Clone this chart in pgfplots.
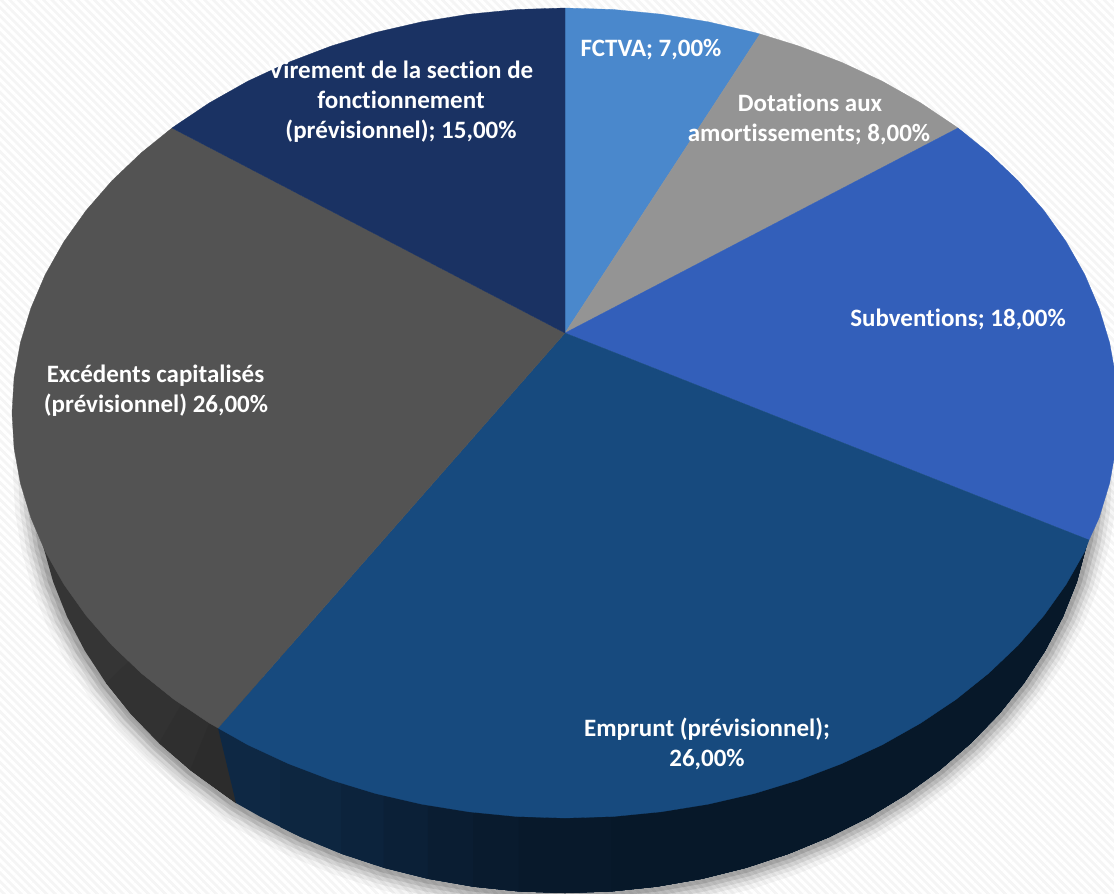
\documentclass[border=0pt]{standalone}
\usepackage{fontspec}
\setmainfont{Carlito}[Ligatures={NoCommon}]
\usepackage{pgfplots}
\pgfplotsset{compat=1.18}
\usetikzlibrary{patterns.meta}
\definecolor{cFCTVA}{HTML}{4A88CC}
\definecolor{cDot}{HTML}{949494}
\definecolor{cSub}{HTML}{335FBA}
\definecolor{cEmp}{HTML}{174A7E}
\definecolor{cExc}{HTML}{535353}
\definecolor{cVir}{HTML}{1A3263}
\definecolor{bgc}{HTML}{F5F5F5}
\begin{document}
\begin{tikzpicture}
\begin{axis}[
  width=1114pt,height=894pt,scale only axis,
  xmin=0,xmax=1114,ymin=0,ymax=894,y dir=reverse,
  hide axis,no markers,
  every axis plot/.append style={line join=round},
]
% background
\addplot[fill=bgc,draw=none] coordinates {(0,0)(1114,0)(1114,894)(0,894)} --cycle;
\addplot[draw=none,pattern={Lines[angle=-45,distance=6pt,line width=3pt]},pattern color=white] coordinates {(0,0)(1114,0)(1114,894)(0,894)} --cycle;
% soft shadow: strokes along the lower outline
\addplot[draw=black,opacity=.04,line width=44pt] coordinates {(1086.9,400.1)(1093,436.4)(1095,473)(1093,509.6)(1088,540)(1076.9,581.7)(1063,616.6)(1045.3,650.5)(1024,683)(999.2,713.9)(971,743)(939.8,770)(905.7,794.7)(869,817.1)(830,836.7)(789,853.6)(746.3,867.7)(702.2,878.7)(657,886.6)(611.2,891.4)(565,893)(518.8,891.4)(473,886.6)(427.8,878.7)(383.7,867.7)(341,853.6)(300,836.7)(261,817.1)(236,803)(224.3,794.7)(190.2,770)(159,743)(130.8,713.9)(106,683)(84.7,650.5)(67,616.6)(53.1,581.7)(43.1,545.9)(37,509.6)(35,473)(37,436.4)(43.1,400.1)};
\addplot[draw=black,opacity=.06,line width=34pt] coordinates {(1086.9,400.1)(1093,436.4)(1095,473)(1093,509.6)(1088,540)(1076.9,581.7)(1063,616.6)(1045.3,650.5)(1024,683)(999.2,713.9)(971,743)(939.8,770)(905.7,794.7)(869,817.1)(830,836.7)(789,853.6)(746.3,867.7)(702.2,878.7)(657,886.6)(611.2,891.4)(565,893)(518.8,891.4)(473,886.6)(427.8,878.7)(383.7,867.7)(341,853.6)(300,836.7)(261,817.1)(236,803)(224.3,794.7)(190.2,770)(159,743)(130.8,713.9)(106,683)(84.7,650.5)(67,616.6)(53.1,581.7)(43.1,545.9)(37,509.6)(35,473)(37,436.4)(43.1,400.1)};
\addplot[draw=black,opacity=.08,line width=26pt] coordinates {(1086.9,400.1)(1093,436.4)(1095,473)(1093,509.6)(1088,540)(1076.9,581.7)(1063,616.6)(1045.3,650.5)(1024,683)(999.2,713.9)(971,743)(939.8,770)(905.7,794.7)(869,817.1)(830,836.7)(789,853.6)(746.3,867.7)(702.2,878.7)(657,886.6)(611.2,891.4)(565,893)(518.8,891.4)(473,886.6)(427.8,878.7)(383.7,867.7)(341,853.6)(300,836.7)(261,817.1)(236,803)(224.3,794.7)(190.2,770)(159,743)(130.8,713.9)(106,683)(84.7,650.5)(67,616.6)(53.1,581.7)(43.1,545.9)(37,509.6)(35,473)(37,436.4)(43.1,400.1)};
\addplot[draw=black,opacity=.10,line width=18pt] coordinates {(1086.9,400.1)(1093,436.4)(1095,473)(1093,509.6)(1088,540)(1076.9,581.7)(1063,616.6)(1045.3,650.5)(1024,683)(999.2,713.9)(971,743)(939.8,770)(905.7,794.7)(869,817.1)(830,836.7)(789,853.6)(746.3,867.7)(702.2,878.7)(657,886.6)(611.2,891.4)(565,893)(518.8,891.4)(473,886.6)(427.8,878.7)(383.7,867.7)(341,853.6)(300,836.7)(261,817.1)(236,803)(224.3,794.7)(190.2,770)(159,743)(130.8,713.9)(106,683)(84.7,650.5)(67,616.6)(53.1,581.7)(43.1,545.9)(37,509.6)(35,473)(37,436.4)(43.1,400.1)};
\addplot[draw=black,opacity=.12,line width=10pt] coordinates {(1086.9,400.1)(1093,436.4)(1095,473)(1093,509.6)(1088,540)(1076.9,581.7)(1063,616.6)(1045.3,650.5)(1024,683)(999.2,713.9)(971,743)(939.8,770)(905.7,794.7)(869,817.1)(830,836.7)(789,853.6)(746.3,867.7)(702.2,878.7)(657,886.6)(611.2,891.4)(565,893)(518.8,891.4)(473,886.6)(427.8,878.7)(383.7,867.7)(341,853.6)(300,836.7)(261,817.1)(236,803)(224.3,794.7)(190.2,770)(159,743)(130.8,713.9)(106,683)(84.7,650.5)(67,616.6)(53.1,581.7)(43.1,545.9)(37,509.6)(35,473)(37,436.4)(43.1,400.1)};
% grey side, left to right; each piece runs over the start of the next colour band
\addplot[fill={rgb,255:red,53;green,53;blue,53},draw=none] coordinates {(43.1,400.1)(37,436.4)(35,473)(37,509.6)(43.1,545.9)(53.1,581.7)(67,616.6)(84.7,650.5)(106,683)(130.8,713.9)(159,743)(190.2,770)(224.3,794.7)(236,803)(300,500)} --cycle;
\addplot[fill={rgb,255:red,50;green,50;blue,50},draw=none] coordinates {(106,683)(130.8,713.9)(159,743)(190.2,770)(224.3,794.7)(236,803)(300,500)} --cycle;
\addplot[fill={rgb,255:red,47;green,47;blue,47},draw=none] coordinates {(159,743)(190.2,770)(224.3,794.7)(236,803)(300,500)} --cycle;
\addplot[fill={rgb,255:red,44;green,44;blue,44},draw=none] coordinates {(190.2,770)(224.3,794.7)(236,803)(300,500)} --cycle;
% blue side, left to right, each piece runs on to the right-hand end
\addplot[fill={rgb,255:red,14;green,40;blue,68},draw=none] coordinates {(236,803)(261,817.1)(300,836.7)(341,853.6)(383.7,867.7)(427.8,878.7)(473,886.6)(518.8,891.4)(565,893)(611.2,891.4)(657,886.6)(702.2,878.7)(746.3,867.7)(789,853.6)(830,836.7)(869,817.1)(905.7,794.7)(939.8,770)(971,743)(999.2,713.9)(1024,683)(1045.3,650.5)(1063,616.6)(1076.9,581.7)(1088,540)(800,500)(300,650)(218,728)} --cycle;
\addplot[fill={rgb,255:red,13;green,38;blue,64},draw=none] coordinates {(280,826.9)(300,836.7)(341,853.6)(383.7,867.7)(427.8,878.7)(473,886.6)(518.8,891.4)(565,893)(611.2,891.4)(657,886.6)(702.2,878.7)(746.3,867.7)(789,853.6)(830,836.7)(869,817.1)(905.7,794.7)(939.8,770)(971,743)(999.2,713.9)(1024,683)(1045.3,650.5)(1063,616.6)(1076.9,581.7)(1088,540)(800,500)(280,650)} --cycle;
\addplot[fill={rgb,255:red,12;green,35;blue,60},draw=none] coordinates {(341,853.6)(383.7,867.7)(427.8,878.7)(473,886.6)(518.8,891.4)(565,893)(611.2,891.4)(657,886.6)(702.2,878.7)(746.3,867.7)(789,853.6)(830,836.7)(869,817.1)(905.7,794.7)(939.8,770)(971,743)(999.2,713.9)(1024,683)(1045.3,650.5)(1063,616.6)(1076.9,581.7)(1088,540)(800,500)(341,650)} --cycle;
\addplot[fill={rgb,255:red,11;green,32;blue,55},draw=none] coordinates {(383.7,867.7)(427.8,878.7)(473,886.6)(518.8,891.4)(565,893)(611.2,891.4)(657,886.6)(702.2,878.7)(746.3,867.7)(789,853.6)(830,836.7)(869,817.1)(905.7,794.7)(939.8,770)(971,743)(999.2,713.9)(1024,683)(1045.3,650.5)(1063,616.6)(1076.9,581.7)(1088,540)(800,500)(383.7,650)} --cycle;
\addplot[fill={rgb,255:red,10;green,29;blue,50},draw=none] coordinates {(427.8,878.7)(473,886.6)(518.8,891.4)(565,893)(611.2,891.4)(657,886.6)(702.2,878.7)(746.3,867.7)(789,853.6)(830,836.7)(869,817.1)(905.7,794.7)(939.8,770)(971,743)(999.2,713.9)(1024,683)(1045.3,650.5)(1063,616.6)(1076.9,581.7)(1088,540)(800,500)(427.8,650)} --cycle;
\addplot[fill={rgb,255:red,9;green,27;blue,46},draw=none] coordinates {(473,886.6)(518.8,891.4)(565,893)(611.2,891.4)(657,886.6)(702.2,878.7)(746.3,867.7)(789,853.6)(830,836.7)(869,817.1)(905.7,794.7)(939.8,770)(971,743)(999.2,713.9)(1024,683)(1045.3,650.5)(1063,616.6)(1076.9,581.7)(1088,540)(800,500)(473,650)} --cycle;
\addplot[fill={rgb,255:red,8;green,25;blue,43},draw=none] coordinates {(518.8,891.4)(565,893)(611.2,891.4)(657,886.6)(702.2,878.7)(746.3,867.7)(789,853.6)(830,836.7)(869,817.1)(905.7,794.7)(939.8,770)(971,743)(999.2,713.9)(1024,683)(1045.3,650.5)(1063,616.6)(1076.9,581.7)(1088,540)(800,500)(518.8,650)} --cycle;
\addplot[fill={rgb,255:red,7;green,24;blue,41},draw=none] coordinates {(611.2,891.4)(657,886.6)(702.2,878.7)(746.3,867.7)(789,853.6)(830,836.7)(869,817.1)(905.7,794.7)(939.8,770)(971,743)(999.2,713.9)(1024,683)(1045.3,650.5)(1063,616.6)(1076.9,581.7)(1088,540)(800,500)(611.2,650)} --cycle;
% top faces
\addplot[fill=cFCTVA,draw=cFCTVA,line width=.3pt] coordinates {(565,333)(565,8)(613.2,9.5)(661,14.2)(708.1,21.8)(754.1,32.4)(760,34)} --cycle;
\addplot[fill=cDot,draw=cDot,line width=.3pt] coordinates {(565,333)(760,34)(798.7,46)(841.5,62.3)(882.2,81.2)(920.5,102.8)(956,126.6)(958,128)} --cycle;
\addplot[fill=cSub,draw=cSub,line width=.3pt] coordinates {(565,333)(958,128)(988.6,152.7)(1018,180.7)(1043.9,210.5)(1066.2,241.8)(1084.7,274.5)(1099.1,308.2)(1109.6,342.7)(1115.9,377.7)(1118,413)(1115.9,448.3)(1109.6,483.3)(1099.1,517.8)(1089,540)} --cycle;
\addplot[fill=cEmp,draw=cEmp,line width=.3pt] coordinates {(565,333)(1089,540)(1084.7,551.5)(1066.2,584.2)(1043.9,615.5)(1018,645.3)(988.6,673.3)(956,699.4)(920.5,723.2)(882.2,744.8)(841.5,763.7)(798.7,780)(754.1,793.6)(708.1,804.2)(661,811.8)(613.2,816.5)(565,818)(516.8,816.5)(469,811.8)(421.9,804.2)(375.9,793.6)(331.3,780)(288.5,763.7)(247.8,744.8)(218,728)} --cycle;
\addplot[fill=cExc,draw=cExc,line width=.3pt] coordinates {(565,333)(218,728)(209.5,723.2)(174,699.4)(141.4,673.3)(112,645.3)(86.1,615.5)(63.8,584.2)(45.3,551.5)(30.9,517.8)(20.4,483.3)(14.1,448.3)(12,413)(14.1,377.7)(20.4,342.7)(30.9,308.2)(45.3,274.5)(63.8,241.8)(86.1,210.5)(112,180.7)(141.4,152.7)(172,128)} --cycle;
\addplot[fill=cVir,draw=cVir,line width=.3pt] coordinates {(565,333)(172,128)(174,126.6)(209.5,102.8)(247.8,81.2)(288.5,62.3)(331.3,46)(375.9,32.4)(421.9,21.8)(469,14.2)(516.8,9.5)(565,8)} --cycle;
% labels
\tikzset{lb/.style={text=white,font=\fontsize{25}{29}\selectfont\bfseries,inner sep=0pt,anchor=base}}
\node[lb] at (axis cs:401,78) {Virement de la section de};
\node[lb] at (axis cs:401,108) {fonctionnement};
\node[lb] at (axis cs:401,138) {(prévisionnel); 15,00\%};
\node[lb] at (axis cs:651,56) {FCTVA; 7,00\%};
\node[lb] at (axis cs:810,111) {Dotations aux};
\node[lb] at (axis cs:809,141) {amortissements; 8,00\%};
\node[lb] at (axis cs:958,326) {Subventions; 18,00\%};
\node[lb] at (axis cs:155.5,382) {Excédents capitalisés};
\node[lb] at (axis cs:156,412) {(prévisionnel) 26,00\%};
\node[lb] at (axis cs:707,736) {Emprunt (prévisionnel);};
\node[lb] at (axis cs:707,766) {26,00\%};
\end{axis}
\end{tikzpicture}
\end{document}
